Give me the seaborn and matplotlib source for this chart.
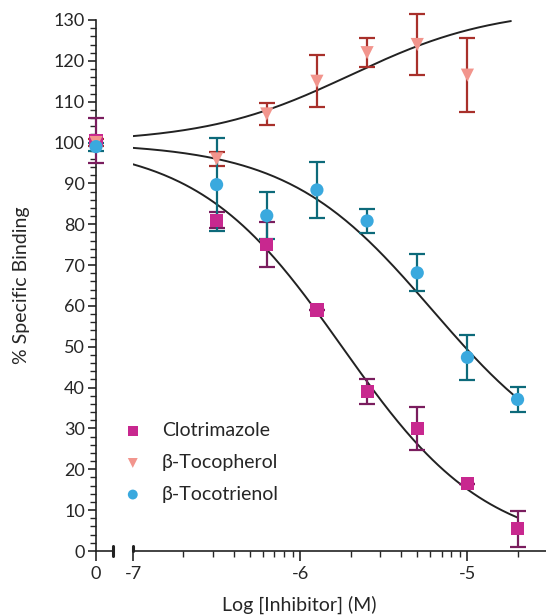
import numpy as np
import pandas as pd
import seaborn as sns
import matplotlib.pyplot as plt
from matplotlib.ticker import FixedLocator

# data
log_conc = [-6.5, -6.2, -5.9, -5.6, -5.3, -5.0, -4.7]

clot_mean = [81.0, 75.0, 59.0, 39.0, 30.0, 16.5, 5.5]
clot_err = [2.0, 5.5, 0.0, 3.0, 5.3, 0.0, 4.4]

tocoph_mean = [96.0, 107.0, 115.0, 122.0, 124.0, 116.5]
tocoph_err = [1.7, 2.6, 6.4, 3.5, 7.5, 9.1]

tocot_mean = [89.7, 82.1, 88.4, 80.8, 68.1, 47.4, 37.1]
tocot_err = [11.3, 5.7, 6.8, 3.0, 4.5, 5.6, 3.0]

# vehicle (no inhibitor) points shown at "0"
vehicle_mean = [100.5, 100.0, 99.0]
vehicle_err = [5.5, 0.8, 1.0]

# fitted curve parameters: low asymptote, high asymptote, logIC50, hill slope
clot_fit = [0.0, 100.0, -5.75, -1.0]
tocoph_fit = [100.0, 133.0, -5.70, 1.0]
tocot_fit = [18.0, 100.0, -5.21, -1.0]

names = ["Clotrimazole", "\u03b2-Tocopherol", "\u03b2-Tocotrienol"]
face_colors = ["#c8288f", "#f2958d", "#3aa9de"]
bar_colors = ["#7a1d5e", "#a8302b", "#0d6a7a"]
markers = ["s", "v", "o"]

sns.set_style("ticks")
plt.rcParams["font.family"] = ["Lato", "DejaVu Sans"]
plt.rcParams["font.size"] = 12

fig = plt.figure(figsize=(5.46, 6.16), dpi=100)
ax0 = fig.add_axes([96 / 546, 65 / 616, 17 / 546, 531 / 616])
ax = fig.add_axes([133 / 546, 65 / 616, 413 / 546, 531 / 616], sharey=ax0)


def curve(params, x):
    lo, hi, c, h = params
    return lo + (hi - lo) / (1 + 10 ** ((c - x) * h))


series = [
    (log_conc, clot_mean, clot_err, clot_fit, -4.70),
    (log_conc[:6], tocoph_mean, tocoph_err, tocoph_fit, -4.74),
    (log_conc, tocot_mean, tocot_err, tocot_fit, -4.70),
]

for i, (xs, ys, es, fit, xend) in enumerate(series):
    xx = np.linspace(-7, xend, 200)
    sns.lineplot(x=xx, y=curve(fit, xx), ax=ax, color="#222222", lw=1.4)

for i, (xs, ys, es, fit, xend) in enumerate(series):
    ax.errorbar(xs, ys, yerr=es, fmt="none", ecolor=bar_colors[i],
                elinewidth=1.6, capsize=5.5, capthick=1.6, clip_on=False, zorder=3)
    df = pd.DataFrame({"x": xs, "y": ys})
    sns.scatterplot(data=df, x="x", y="y", ax=ax, marker=markers[i], s=90,
                    color=face_colors[i], edgecolor="none", label=names[i],
                    clip_on=False, zorder=4)
    ax0.errorbar([0], [vehicle_mean[i]], yerr=[vehicle_err[i]], fmt="none",
                 ecolor=bar_colors[i], elinewidth=1.6, capsize=5.5, capthick=1.6,
                 clip_on=False, zorder=3)
    ax0.scatter([0], [vehicle_mean[i]], marker=markers[i], s=90,
                color=face_colors[i], edgecolor="none", clip_on=False, zorder=4)

# y axis
ax0.set_ylim(0, 130)
ax0.set_yticks(np.arange(0, 131, 10))
ax0.yaxis.set_minor_locator(FixedLocator(np.arange(0, 131, 2)))
ax0.tick_params(axis="y", which="major", length=6, width=1.2, labelsize=13, pad=2)
ax0.tick_params(axis="y", which="minor", length=4, width=1.0)
ax0.set_ylabel("% Specific Binding", fontsize=14, labelpad=17)

# left x segment
ax0.set_xlim(0, 1)
ax0.set_xticks([0])
ax0.set_xticklabels(["0"])
ax0.tick_params(axis="x", length=7, width=1.2, labelsize=13)
for s in ["top", "right"]:
    ax0.spines[s].set_visible(False)
ax0.plot([1, 1], [-0.009, 0.009], transform=ax0.get_xaxis_transform(),
         color="#222222", lw=2.2, clip_on=False)

# main x axis
ax.set_xlim(-7, -4.53)
ax.set_xticks([-7, -6, -5])
ax.set_xticklabels(["-7", "-6", "-5"])
minor = [d + np.log10(k) for d in [-7, -6, -5] for k in range(2, 10)]
ax.xaxis.set_minor_locator(FixedLocator([m for m in minor if m < -4.53]))
ax.tick_params(axis="x", which="major", length=7, width=1.2, labelsize=13)
ax.tick_params(axis="x", which="minor", length=4, width=1.0)
ax.tick_params(axis="y", which="both", left=False, labelleft=False)
for s in ["top", "right", "left"]:
    ax.spines[s].set_visible(False)
ax.plot([-7, -7], [0, 0.009], transform=ax.get_xaxis_transform(),
        color="#222222", lw=2.2, clip_on=False)
ax.set_xlabel("")
ax.set_ylabel("")
fig.text(299 / 546, 1 - 605 / 616, "Log [Inhibitor] (M)", fontsize=14,
         ha="center", va="center")

for a in [ax0, ax]:
    for s in a.spines.values():
        s.set_color("#222222")
        s.set_linewidth(1.2)

ax.legend(loc="upper left", bbox_to_anchor=(-0.09, 0.275), frameon=False,
          fontsize=14, handletextpad=0.5, labelspacing=0.75, markerscale=0.75)

fig.savefig("out.png", dpi=100)
